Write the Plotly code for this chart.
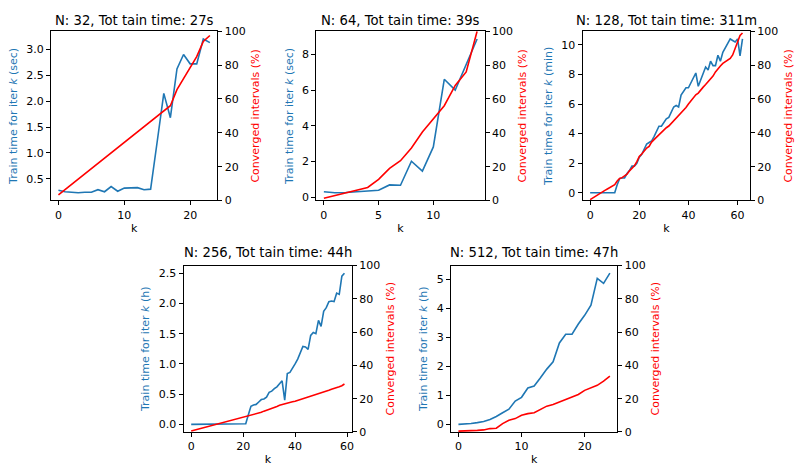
import plotly.graph_objects as go

W, H = 798, 471
BLUE = "#1f77b4"
RED = "#ff0000"
FONT = "DejaVu Sans"
FS = 11
TFS = 13.2

# ---------------- data ----------------
titles = ["N: 32, Tot tain time: 27s", "N: 64, Tot tain time: 39s",
          "N: 128, Tot tain time: 311m", "N: 256, Tot tain time: 44h",
          "N: 512, Tot tain time: 47h"]
units = ["sec", "sec", "min", "h", "h"]

p1_k = list(range(24))
p1_time = [0.28, 0.25, 0.24, 0.23, 0.24, 0.24, 0.29, 0.25, 0.35, 0.26, 0.32, 0.33,
           0.33, 0.29, 0.30, 1.22, 2.15, 1.68, 2.62, 2.90, 2.72, 2.72, 3.20, 3.13]
p1_conv_k = [0, 17, 18, 19, 20, 21, 22, 23]
p1_conv = [3.3, 56, 65.5, 72, 78, 85, 94, 97.5]

p2_k = list(range(15))
p2_time = [0.32, 0.26, 0.28, 0.31, 0.35, 0.40, 0.70, 0.68, 2.02, 1.47, 2.82, 6.60,
           6.00, 7.40, 8.85]
p2_conv_k = [0, 4, 5, 6, 7, 8, 9, 10, 11, 12, 13, 14]
p2_conv = [1.3, 7.7, 12.5, 19, 23.5, 31, 40.5, 48, 56, 68, 76, 100]

p3_k = list(range(63))
p3_time = [0, 0, 0, 0, 0, 0, 0, 0, 0, 0, 0, 0.55, 0.96, 1.0, 1.0, 1.3, 1.5, 1.8, 1.8,
           2.0, 2.4, 2.6, 3.0, 3.3, 3.4, 3.5, 3.8, 4.1, 4.5, 4.5, 4.8, 5.0, 5.1,
           5.4, 5.8, 5.9, 5.8, 6.6, 6.9, 7.1, 7.1, 7.4, 7.8, 8.1, 7.2, 7.6, 8.0,
           8.5, 8.3, 8.9, 8.6, 8.6, 9.3, 8.9, 9.5, 9.8, 10.2, 10.4, 10.3, 10.2,
           10.4, 9.25, 10.4]
p3_conv = [0.5, 1.5, 2.5, 3.5, 4.5, 5.3, 6.0, 6.8, 7.5, 8.3, 9.3, 11.5, 13.0, 13.5,
           14.5, 15.5, 17.5, 19.0, 20.5, 23.0, 26.0, 27.5, 29.5, 31.0, 32.0, 34.5,
           36.0, 37.5, 39.0, 40.5, 41.5, 43.0, 44.0, 45.5, 47.0, 48.5, 50.5, 51.5,
           53.0, 55.0, 57.0, 59.0, 61.0, 62.5, 63.5, 65.5, 67.0, 68.5, 70.0, 72.0,
           73.5, 76.0, 78.0, 79.5, 81.0, 82.0, 83.0, 84.0, 86.0, 89.5, 94.0, 97.5,
           99.0]

p4_k = list(range(60))
p4_time = [0.0] * 21 + [0.01, 0.16, 0.30, 0.32, 0.33, 0.37, 0.41, 0.42, 0.45, 0.53,
                        0.55, 0.59, 0.62, 0.67, 0.72, 0.40, 0.84, 0.86, 0.92, 1.00,
                        1.08, 1.18, 1.29, 1.28, 1.24, 1.47, 1.52, 1.50, 1.72, 1.62,
                        1.87, 1.93, 2.03, 2.04, 2.03, 2.17, 2.15, 2.45, 2.50]
p4_conv = [0.5, 0.9, 1.4, 1.8, 2.2, 2.6, 3.0, 3.5, 3.9, 4.3, 4.7, 5.2, 5.6, 6.0,
           6.5, 6.9, 7.3, 7.7, 8.2, 8.6, 9.0, 9.4, 9.8, 10.1, 10.5, 10.8, 11.2,
           11.8, 12.5, 13.0, 13.5, 14.0, 14.5, 15.3, 16.0, 16.5, 17.0, 17.4, 17.8,
           18.1, 18.5, 19.0, 19.5, 20.0, 20.5, 21.0, 21.5, 22.0, 22.5, 22.8, 23.2,
           23.8, 24.5, 25.1, 25.7, 26.1, 26.5, 27.2, 27.8, 28.8]

p5_k = list(range(25))
p5_time = [0.0, 0.01, 0.03, 0.06, 0.10, 0.17, 0.27, 0.40, 0.52, 0.80, 0.93, 1.25,
           1.32, 1.60, 1.90, 2.15, 2.80, 3.10, 3.10, 3.45, 3.75, 4.10, 5.02, 4.85,
           5.20]
p5_conv = [0.5, 0.5, 0.7, 0.9, 1.2, 2.0, 2.2, 5.0, 7.0, 8.0, 10.0, 11.0, 11.5, 13.5,
           15.5, 16.5, 18.0, 19.5, 21.0, 22.5, 25.0, 26.5, 28.0, 30.5, 33.5]

x_dticks = [10, 5, 20, 20, 10]
y_dticks = [0.5, 2, 2, 0.5, 1]
y_formats = [".1f", "d", "d", ".1f", "d"]

panels = [
    (p1_k, p1_time, p1_conv_k, p1_conv),
    (p2_k, p2_time, p2_conv_k, p2_conv),
    (p3_k, p3_time, p3_k, p3_conv),
    (p4_k, p4_time, p4_k, p4_conv),
    (p5_k, p5_time, p5_k, p5_conv),
]

# pixel boxes (left, right, top, bottom)
boxes = [(51, 218, 26, 200), (317, 486, 26, 200), (584, 752, 26, 200),
         (184, 353, 267, 438), (452, 619, 267, 438)]
title_y = [15, 15, 15, 254, 254]

fig = go.Figure()
layout = dict(
    width=W, height=H, margin=dict(l=0, r=0, t=0, b=0),
    paper_bgcolor="white", plot_bgcolor="white", showlegend=False,
    font=dict(family=FONT, size=FS, color="black"),
    annotations=[],
)

def margin_range(vals_lo, vals_hi):
    span = vals_hi - vals_lo
    return [vals_lo - 0.05 * span, vals_hi + 0.05 * span]

for i, (k, t, ck, c) in enumerate(panels):
    n = i + 1
    xa = "x" if n == 1 else f"x{n}"
    ya1 = 2 * n - 1
    ya2 = 2 * n
    y1 = "y" if ya1 == 1 else f"y{ya1}"
    y2 = f"y{ya2}"
    fig.add_trace(go.Scatter(x=k, y=t, mode="lines", xaxis=xa, yaxis=y1,
                             line=dict(color=BLUE, width=1.6)))
    fig.add_trace(go.Scatter(x=ck, y=c, mode="lines", xaxis=xa, yaxis=y2,
                             line=dict(color=RED, width=1.6)))
    l, r, tp, b = boxes[i]
    xdom = [l / W, r / W]
    ydom = [1 - b / H, 1 - tp / H]
    common = dict(showgrid=False, zeroline=False, showline=True, linecolor="black",
                  linewidth=1, ticks="outside", ticklen=4, tickwidth=1,
                  tickcolor="black", tickfont=dict(family=FONT, size=FS, color="black"))
    layout["xaxis" if n == 1 else f"xaxis{n}"] = dict(
        domain=xdom, anchor=y1, mirror=True,
        range=margin_range(min(k), max(k)), dtick=x_dticks[i], tick0=0,
        title=dict(text="k", font=dict(family=FONT, size=FS), standoff=3),
        **common)
    layout["yaxis" if ya1 == 1 else f"yaxis{ya1}"] = dict(
        domain=ydom, anchor=xa, mirror=True,
        range=margin_range(min(t), max(t)), dtick=y_dticks[i], tick0=0,
        tickformat=y_formats[i],
        title=dict(text=f"Train time for iter <i>k</i> ({units[i]})",
                   font=dict(family=FONT, size=FS, color=BLUE), standoff=6),
        **common)
    layout[f"yaxis{ya2}"] = dict(
        domain=ydom, anchor=xa, overlaying=y1, side="right",
        range=[0, 100], dtick=20, tick0=0,
        title=dict(text="Converged intervals (%)",
                   font=dict(family=FONT, size=FS, color=RED), standoff=6),
        **common)
    layout["annotations"].append(dict(
        text=titles[i], x=(l + r) / 2 / W, y=1 - title_y[i] / H,
        xref="paper", yref="paper", xanchor="center", yanchor="middle",
        showarrow=False, font=dict(family=FONT, size=TFS, color="black")))

fig.update_layout(**layout)
fig.write_html("out.html", config={"displayModeBar": False},
               post_script="document.body.style.margin='0';"
                           "document.body.style.overflow='hidden';")
